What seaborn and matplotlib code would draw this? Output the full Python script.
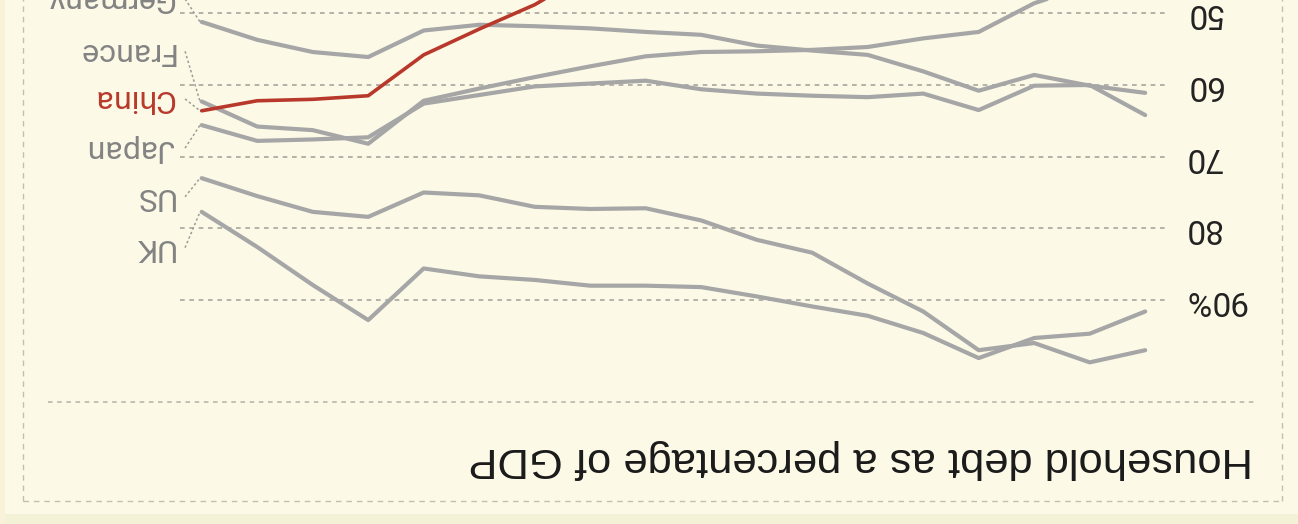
import matplotlib
matplotlib.use("Agg")
import matplotlib.pyplot as plt
from matplotlib.lines import Line2D
from matplotlib.patches import Rectangle
import numpy as np
import pandas as pd
import seaborn as sns

# ---------------- data (household debt, % of GDP) ----------------
years = list(range(2006, 2024))
countries = ["UK", "US", "Japan", "China", "France", "Germany"]

uk = [91.6, 94.7, 95.3, 98.1, 94.6, 92.2, 90.9, 89.5, 88.2, 88.0,
      88.0, 87.2, 86.7, 85.6, 92.8, 87.9, 82.6, 77.7]
us = [97.0, 98.7, 96.0, 97.0, 91.6, 87.7, 83.4, 81.6, 78.9, 77.2,
      77.3, 77.0, 75.4, 75.0, 78.4, 77.7, 75.5, 73.0]
japan = [64.2, 60.0, 60.1, 63.5, 61.2, 61.7, 61.5, 61.2, 60.6, 59.4,
         59.8, 60.2, 61.4, 62.6, 67.3, 67.6, 67.8, 65.6]
china = [11.0, 19.0, 18.0, 23.5, 27.0, 28.2, 30.5, 33.5, 36.3, 39.5,
         44.3, 48.8, 52.2, 55.8, 61.5, 62.0, 62.2, 63.6]
france = [44.0, 46.0, 48.6, 52.6, 53.5, 54.7, 55.1, 55.3, 55.4, 56.0,
          57.4, 58.9, 60.5, 62.2, 68.2, 66.3, 65.8, 62.3]
germany = [61.1, 60.1, 58.6, 60.8, 58.1, 55.8, 55.2, 54.5, 53.0, 52.6,
           52.1, 51.8, 51.6, 52.4, 56.1, 55.4, 53.7, 51.2]

label_values = [82.7, 75.6, 68.8, 61.95, 55.3, 48.0]   # where the end labels sit
yticks = [50, 60, 70, 80, 90]
ytick_labels = ["50", "60", "70", "80", "90%"]
title = "Household debt as a percentage of GDP"

series = {"UK": uk, "US": us, "Japan": japan, "China": china,
          "France": france, "Germany": germany}
df = pd.DataFrame({"year": years, **series}).melt(
    id_vars="year", var_name="country", value_name="value")

# ---------------- style ----------------
sns.set_theme(style="white")
plt.rcParams["font.family"] = ["Roboto", "DejaVu Sans"]

BG = "#FCFAE7"
GRAY = "#A6A6A6"
RED = "#B8392C"
LABEL_GRAY = "#838383"

W, H = 1298, 524
fig = plt.figure(figsize=(W / 100, H / 100), dpi=100, facecolor=BG)


def fx(px):
    return px / W


def fy(py):
    return 1 - py / H


# outer bands
fig.add_artist(Rectangle((0, 0), 1, fy(514), transform=fig.transFigure,
                         color="#F4F2D6", zorder=0, lw=0))
fig.add_artist(Rectangle((0, 0), fx(5), 1, transform=fig.transFigure,
                         color="#FAF1DA", zorder=0, lw=0))

ax = fig.add_axes([fx(180), fy(380), fx(1168) - fx(180), fy(0) - fy(380)])
ax.set_facecolor("none")

palette = {c: GRAY for c in countries}
palette["China"] = RED
order = ["UK", "US", "Japan", "France", "Germany", "China"]
sns.lineplot(data=df, x="year", y="value", hue="country", hue_order=order,
             palette=palette, linewidth=3.0, legend=False, ax=ax,
             estimator=None)
for ln in ax.lines:
    ln.set_solid_capstyle("round")
    ln.set_solid_joinstyle("round")
ax.lines[-1].set_linewidth(2.6)
ax.lines[-1].set_zorder(5)

# the whole chart is shown turned upside down
ax.set_xlim(2023.391, 2005.589)
ax.set_ylim(101.16, 48.144)

ax.set_xticks([])
ax.set_xlabel("")
ax.set_ylabel("")
ax.set_yticks(yticks)
ax.set_yticklabels(ytick_labels)
ax.yaxis.tick_right()
ax.tick_params(axis="y", length=0, pad=11.5, labelsize=24,
               labelcolor="#222222", labelrotation=180)
for lbl in ax.get_yticklabels():
    lbl.set_ha("left")
    lbl.set_va("center")

ax.grid(axis="y", color="#A8A79E", linestyle=(0, (2.8, 2.8)), linewidth=1.2)
ax.grid(axis="x", visible=False)
ax.set_axisbelow(True)
for s in ax.spines.values():
    s.set_visible(False)

# end labels with dotted leaders
last = years[-1]
for c, lv in zip(countries, label_values):
    col = RED if c == "China" else LABEL_GRAY
    ax.text(last + 0.5, lv, c, rotation=180, ha="right", va="center",
            fontsize=23, color=col, clip_on=False)
    ax.plot([last + 0.30, last + 0.03], [lv, series[c][-1]],
            linestyle=(0, (1.6, 1.6)), color="#9C9C96", lw=1.1,
            clip_on=False)

# title (upside down)
fig.text(fx(1253), fy(459), title, rotation=180, ha="right", va="center",
         fontsize=31.3, family=["Liberation Sans", "DejaVu Sans"],
         color="#1A1A1A")

# separator and frame
fig.add_artist(Line2D([fx(48), fx(1255)], [fy(402), fy(402)],
                      transform=fig.transFigure, color="#B3B2A6", lw=1.1,
                      linestyle=(0, (3, 3))))
frame_kw = dict(transform=fig.transFigure, color="#C0BFB1", lw=1.0,
                linestyle=(0, (4, 3.5)))
fig.add_artist(Line2D([fx(23), fx(23)], [fy(501), fy(-5)], **frame_kw))
fig.add_artist(Line2D([fx(1282), fx(1282)], [fy(501), fy(-5)], **frame_kw))
fig.add_artist(Line2D([fx(23), fx(1282)], [fy(501), fy(501)], **frame_kw))

fig.savefig("out.png", dpi=100, facecolor=BG)
